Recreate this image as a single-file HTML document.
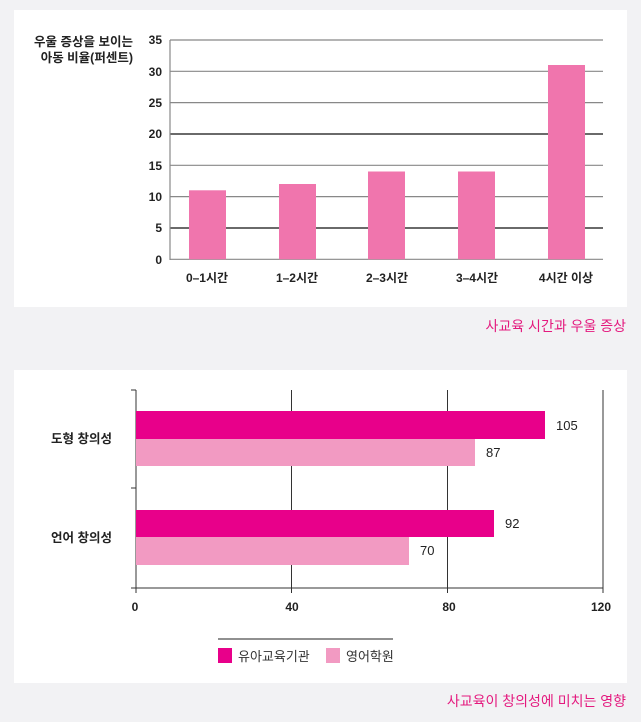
<!DOCTYPE html>
<html><head><meta charset="utf-8"><style>
body{margin:0;background:#f2f2f4;width:641px;height:722px;overflow:hidden;font-family:"Liberation Sans","Noto Sans CJK KR",sans-serif}
svg{position:absolute;left:0;top:0}
</style></head><body>
<svg width="641" height="722" viewBox="0 0 641 722" font-family="Liberation Sans, Noto Sans CJK KR, sans-serif">
<rect x="14" y="10" width="613" height="297" fill="#fff"/>
<rect x="14" y="370" width="613" height="313" fill="#fff"/>
<!-- top chart -->
<g stroke-width="1.2">
<line x1="170" y1="40" x2="603" y2="40" stroke="#888"/>
<line x1="170" y1="71.3" x2="603" y2="71.3" stroke="#888"/>
<line x1="170" y1="102.6" x2="603" y2="102.6" stroke="#888"/>
<line x1="170" y1="134" x2="603" y2="134" stroke="#111"/>
<line x1="170" y1="165.3" x2="603" y2="165.3" stroke="#888"/>
<line x1="170" y1="196.6" x2="603" y2="196.6" stroke="#888"/>
<line x1="170" y1="228" x2="603" y2="228" stroke="#111"/>
<line x1="170" y1="259.3" x2="603" y2="259.3" stroke="#888"/>
<line x1="170" y1="40" x2="170" y2="260" stroke="#888"/>
</g>
<g fill="#f075ad">
<rect x="189" y="190.3" width="37" height="69"/>
<rect x="279" y="184" width="37" height="75.3"/>
<rect x="368" y="171.5" width="37" height="87.8"/>
<rect x="458" y="171.5" width="37" height="87.8"/>
<rect x="548" y="65" width="37" height="194.3"/>
</g>
<g font-size="12" fill="#222" text-anchor="end" font-weight="bold">
<text x="162" y="44">35</text><text x="162" y="76">30</text><text x="162" y="107">25</text><text x="162" y="138">20</text><text x="162" y="170">15</text><text x="162" y="201">10</text><text x="162" y="232">5</text><text x="162" y="264">0</text>
<text x="133" y="46" font-size="12.5">우울 증상을 보이는</text>
<text x="133" y="62" font-size="12.5">아동 비율(퍼센트)</text>
</g>
<g font-size="12" fill="#222" text-anchor="middle" font-weight="bold">
<text x="207" y="282">0–1시간</text><text x="297" y="282">1–2시간</text><text x="387" y="282">2–3시간</text><text x="477" y="282">3–4시간</text><text x="566" y="282">4시간 이상</text>
</g>
<text x="626" y="331" font-size="14" fill="#e4197e" text-anchor="end">사교육 시간과 우울 증상</text>
<!-- bottom chart -->
<g stroke="#333" stroke-width="1">
<line x1="136" y1="390" x2="136" y2="588"/>
<line x1="131" y1="390" x2="136" y2="390"/>
<line x1="131" y1="488" x2="136" y2="488"/>
<line x1="131" y1="588" x2="603" y2="588"/>
<line x1="291.5" y1="390" x2="291.5" y2="593"/>
<line x1="447.5" y1="390" x2="447.5" y2="593"/>
<line x1="603" y1="390" x2="603" y2="593"/>
<line x1="136" y1="588" x2="136" y2="593"/>
</g>
<rect x="136" y="411" width="409" height="28" fill="#e8008a"/>
<rect x="136" y="439" width="339" height="27" fill="#f29ac2"/>
<rect x="136" y="510" width="358" height="27" fill="#e8008a"/>
<rect x="136" y="537" width="273" height="28" fill="#f29ac2"/>
<g font-size="13" fill="#222">
<text x="556" y="430">105</text><text x="486" y="457">87</text><text x="505" y="528">92</text><text x="420" y="555">70</text>
</g>
<g font-size="12.5" fill="#222" font-weight="bold" text-anchor="end">
<text x="112" y="443">도형 창의성</text><text x="112" y="542">언어 창의성</text>
</g>
<g font-size="12" fill="#222" font-weight="bold" text-anchor="middle">
<text x="135" y="611">0</text><text x="292" y="611">40</text><text x="449" y="611">80</text><text x="601" y="611">120</text>
</g>
<line x1="218" y1="639" x2="393" y2="639" stroke="#222" stroke-width="1"/>
<rect x="218" y="648" width="14" height="15" fill="#e8008a"/>
<text x="238" y="661" font-size="13" fill="#333">유아교육기관</text>
<rect x="326" y="648" width="14" height="15" fill="#f29ac2"/>
<text x="346" y="661" font-size="13" fill="#333">영어학원</text>
<text x="626" y="706" font-size="14" fill="#e4197e" text-anchor="end">사교육이 창의성에 미치는 영향</text>
</svg>
</body></html>
